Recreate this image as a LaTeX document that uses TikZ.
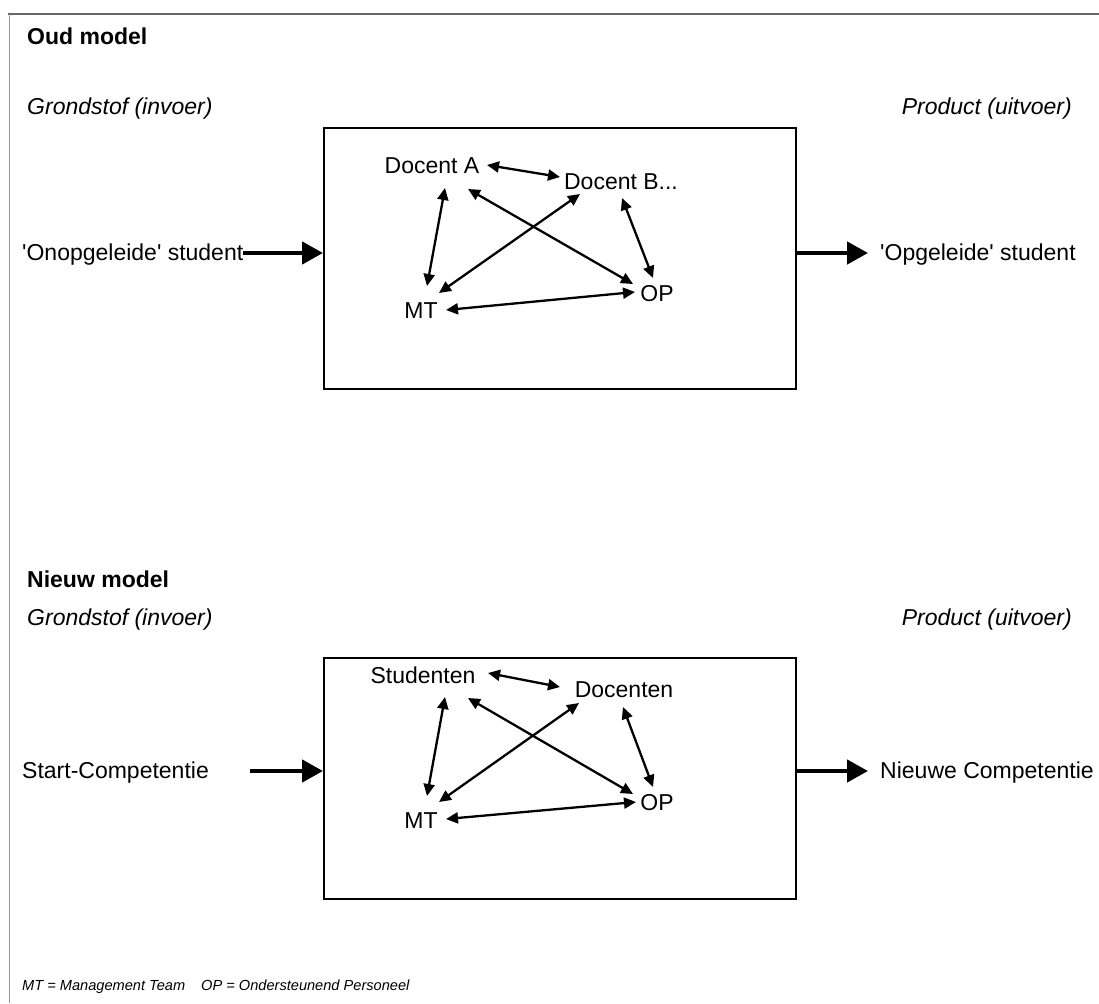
\documentclass[tikz,border=0pt]{standalone}
\usepackage{fontspec}
\setmainfont{Liberation Sans}
\usetikzlibrary{arrows.meta}
\newcommand{\sq}{\textquotesingle}
\begin{document}
\begin{tikzpicture}[x=1pt,y=-1pt,
  lbl/.style={font=\fontsize{23}{27}\selectfont, inner sep=0pt, text height=15.8pt, text depth=0pt},
  ttl/.style={lbl, font=\fontsize{23}{27}\selectfont\bfseries, anchor=west},
  side/.style={lbl, font=\fontsize{23}{27}\selectfont\itshape},
  foot/.style={font=\fontsize{14.6}{18}\selectfont\itshape, inner sep=0pt, text height=10.1pt, text depth=0pt, anchor=west},
  box/.style={draw, line width=2pt, inner sep=0pt, anchor=north west},
  rel/.style={line width=2.3pt, {Triangle[length=12pt,width=11pt]}-{Triangle[length=12pt,width=11pt]}},
  flow/.style={line width=4.5pt, -{Triangle[length=21pt,width=22pt]}},
]
\useasboundingbox (0,0) rectangle (1099,1003);
% outer frame
\draw[line width=1.5pt, black!60] (8,14) -- (1099,14);
\draw[line width=1pt, black!40] (9,14) -- (9,1003);

% ---------- Oud model ----------
\node[ttl] (t1) at (27,37) {Oud model};
\node[side, anchor=west] (in1) at (27,107) {Grondstof (invoer)};
\node[side, anchor=east] (out1) at (1072,107) {Product (uitvoer)};
\node[box, minimum width=472pt, minimum height=261pt] (b1) at (323,127) {};
\node[lbl, anchor=west] (s1) at (22,253) {\sq Onopgeleide\sq{} student};
\node[lbl, anchor=west] (e1) at (880,253) {\sq Opgeleide\sq{} student};
\coordinate (o1) at (868,253);
\draw[flow] (s1.east) -- (s1.east -| b1.west);
\draw[flow] (o1 -| b1.east) -- (o1);

\node[lbl] (da) at (432,166) {Docent A};
\node[lbl] (db) at (621,182) {Docent B...};
\node[lbl] (mt1) at (421,311) {MT};
\node[lbl] (op1) at (657,294) {OP};
\draw[rel] ([shift={(55,-1)}]da.center) -- ([shift={(-61,-5)}]db.center);
\draw[rel] ([shift={(13,22)}]da.center) -- ([shift={(6,-25)}]mt1.center);
\draw[rel] ([shift={(36,23)}]da.center) -- ([shift={(-24,-10)}]op1.center);
\draw[rel] ([shift={(-41,12)}]db.center) -- ([shift={(18,-18)}]mt1.center);
\draw[rel] ([shift={(1,16)}]db.center) -- ([shift={(-4,-16)}]op1.center);
\draw[rel] ([shift={(25,-1)}]mt1.center) -- ([shift={(-22,-2)}]op1.center);

% ---------- Nieuw model ----------
\node[ttl] (t2) at (27,580) {Nieuw model};
\node[side, anchor=west] (in2) at (27,618) {Grondstof (invoer)};
\node[side, anchor=east] (out2) at (1072,618) {Product (uitvoer)};
\node[box, minimum width=472pt, minimum height=241pt] (b2) at (323,657) {};
\node[lbl, anchor=west] (s2) at (22,771) {Start-Competentie};
\node[lbl, anchor=west] (e2) at (880,771) {Nieuwe Competentie};
\coordinate (i2) at (250,771);
\coordinate (o2) at (868,771);
\draw[flow] (i2) -- (i2 -| b2.west);
\draw[flow] (o2 -| b2.east) -- (o2);

\node[lbl] (st) at (423,676) {Studenten};
\node[lbl] (do) at (624,690) {Docenten};
\node[lbl] (mt2) at (421,821) {MT};
\node[lbl] (op2) at (657,803) {OP};
\draw[rel] ([shift={(65,-3)}]st.center) -- ([shift={(-64,-3)}]do.center);
\draw[rel] ([shift={(22,21)}]st.center) -- ([shift={(6,-25)}]mt2.center);
\draw[rel] ([shift={(45,22)}]st.center) -- ([shift={(-24,-9)}]op2.center);
\draw[rel] ([shift={(-45,13)}]do.center) -- ([shift={(18,-19)}]mt2.center);
\draw[rel] ([shift={(-1,17)}]do.center) -- ([shift={(-4,-16)}]op2.center);
\draw[rel] ([shift={(25,-2)}]mt2.center) -- ([shift={(-21,-1)}]op2.center);

% footer
\node[foot] (fn) at (22,985) {MT = Management Team\hspace{1.1em}OP = Ondersteunend Personeel};
\end{tikzpicture}
\end{document}
